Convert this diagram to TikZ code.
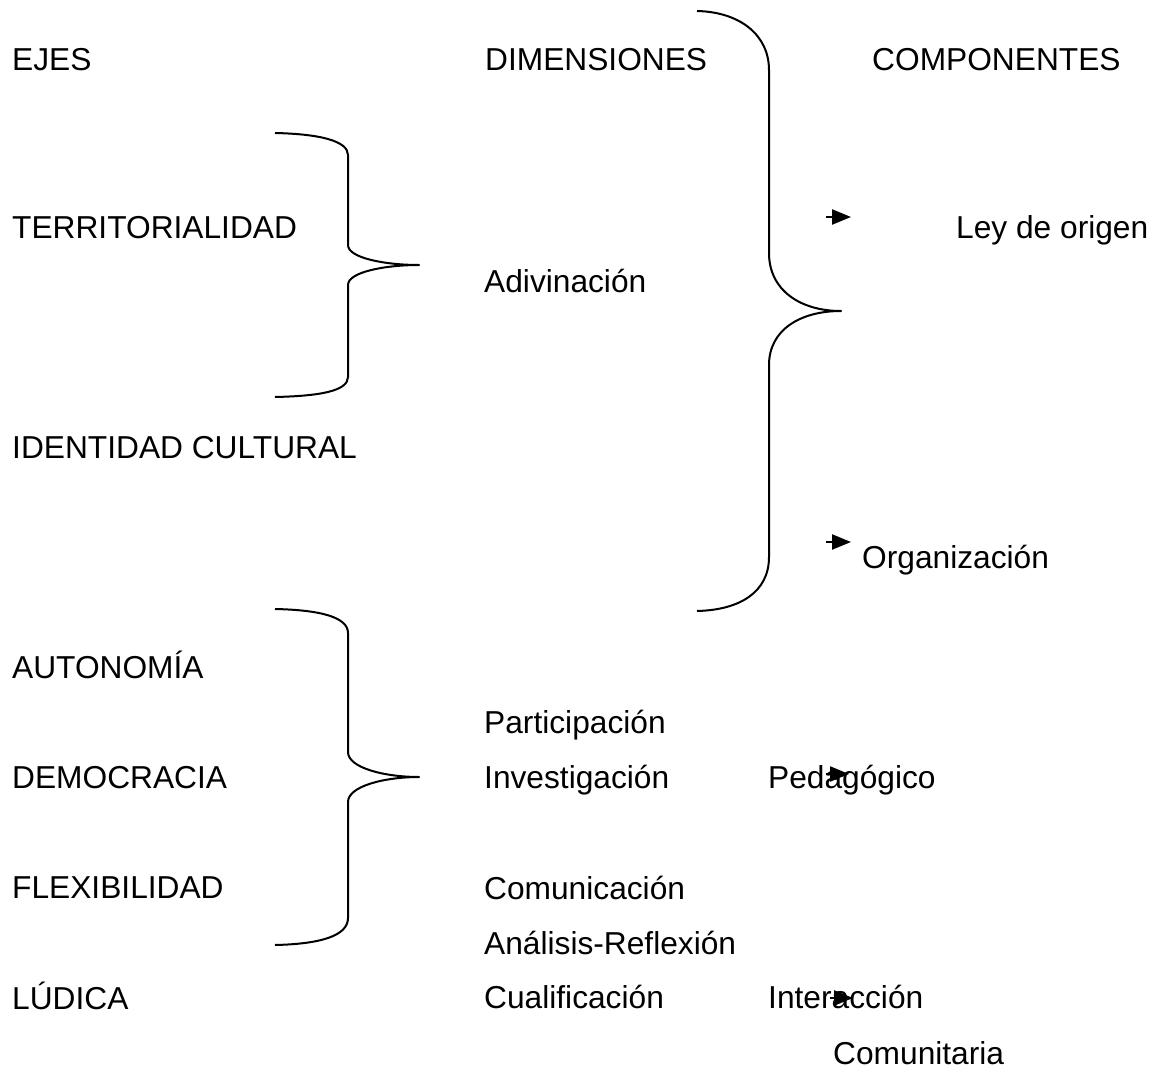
\documentclass[tikz,border=0pt]{standalone}
\usepackage{fontspec}
\setmainfont{Liberation Sans}
\usetikzlibrary{arrows.meta}
\begin{document}
\begin{tikzpicture}[x=1pt,y=-1pt,
  lbl/.style={anchor=base west,inner sep=0pt,font=\fontsize{31.7}{38}\selectfont},
  brace/.style={line width=2pt,line join=round},
  smallarrow/.style={line width=2.4pt,-{Triangle[length=19pt,width=15pt]}}]
\useasboundingbox[fill=white] (0,0) rectangle (1163,1070);
% headers
\node[lbl] (ejes) at (12,71) {EJES};
\node[lbl] (dim) at (485,71) {DIMENSIONES};
\node[lbl] (comp) at (872,71) {COMPONENTES};
% left column
\node[lbl] (terr) at (12,238) {TERRITORIALIDAD};
\node[lbl] (ident) at (12,458) {IDENTIDAD CULTURAL};
\node[lbl] (auto) at (12,678) {AUTONOMÍA};
\node[lbl] (demo) at (12,788) {DEMOCRACIA};
\node[lbl] (flex) at (12,898) {FLEXIBILIDAD};
\node[lbl] (ludi) at (12,1009) {LÚDICA};
% middle column
\node[lbl] (adiv) at (484,292) {Adivinación};
\node[lbl] (part) at (484,733) {Participación};
\node[lbl] (inv) at (484,788) {Investigación};
\node[lbl] (comu) at (484,899) {Comunicación};
\node[lbl] (anal) at (484,954) {Análisis-Reflexión};
\node[lbl] (cual) at (484,1008) {Cualificación};
% right column
\node[lbl] (ley) at (956,238) {Ley de origen};
\node[lbl] (org) at (862,568) {Organización};
\node[lbl] (ped) at (768,788) {Pedagógico};
\node[lbl] (inter) at (768,1008) {Interacción};
\node[lbl] (comun) at (833,1064) {Comunitaria};
% braces
\draw[brace] (275,133) .. controls (320,134) and (348,141) .. (348,155) -- (348,245)
  .. controls (348,258) and (385,265) .. (419,265)
  .. controls (385,265) and (348,272) .. (348,285) -- (348,377)
  .. controls (348,391) and (320,396) .. (275,397);
\draw[brace] (275,609) .. controls (320,610) and (348,617) .. (348,633) -- (348,752)
  .. controls (348,768) and (385,777) .. (419,777)
  .. controls (385,777) and (348,786) .. (348,802) -- (348,918)
  .. controls (348,936) and (320,944) .. (275,945);
\draw[brace] (697,11) .. controls (740,12) and (769,35) .. (769,70) -- (769,253)
  .. controls (769,290) and (800,311) .. (841,311)
  .. controls (800,311) and (769,330) .. (769,365) -- (769,557)
  .. controls (769,592) and (740,610) .. (697,611);
% small arrows
\coordinate (a1s) at (826,217); \coordinate (a1e) at (851,217);
\coordinate (a2s) at (826,542); \coordinate (a2e) at (851,542);
\coordinate (a3s) at (826,774); \coordinate (a3e) at (849,774);
\coordinate (a4s) at (830,998); \coordinate (a4e) at (853,998);
\draw[smallarrow] (a1s) -- (a1e);
\draw[smallarrow] (a2s) -- (a2e);
\draw[smallarrow] (a3s) -- (a3e);
\draw[smallarrow] (a4s) -- (a4e);
\end{tikzpicture}
\end{document}
